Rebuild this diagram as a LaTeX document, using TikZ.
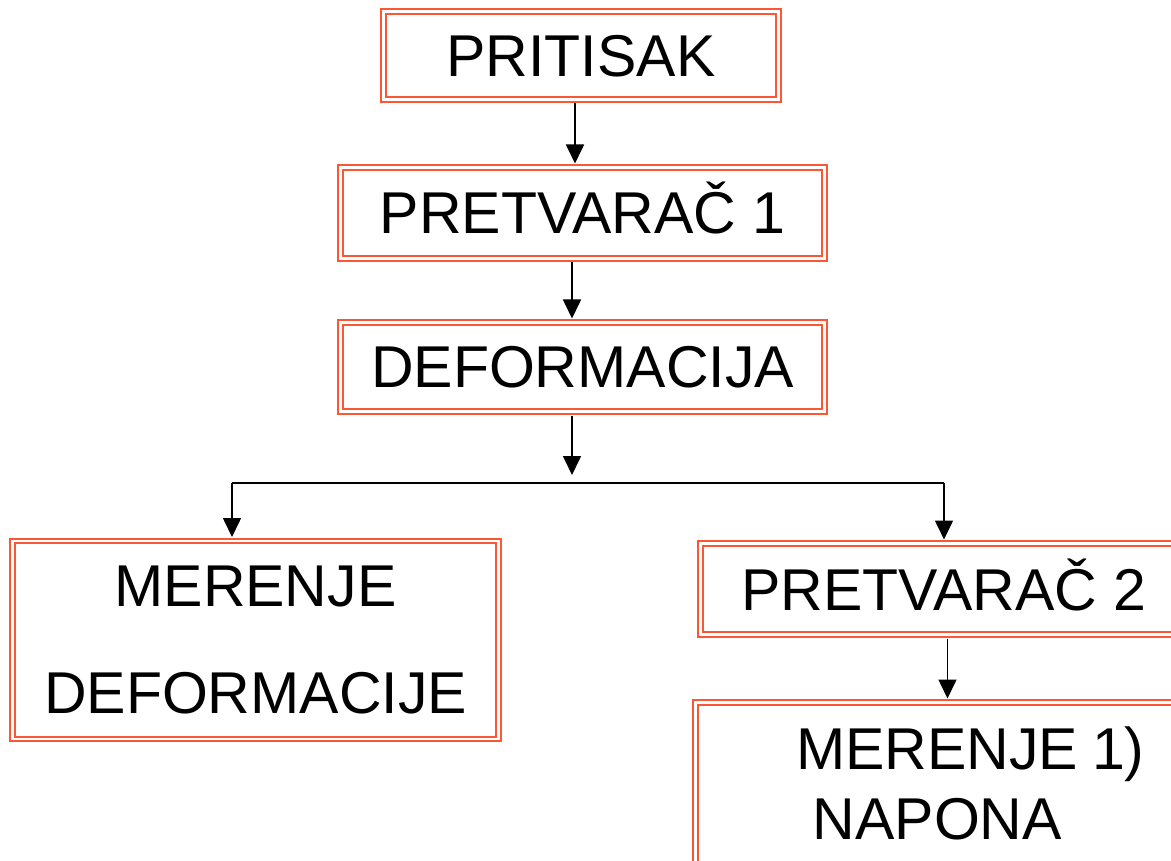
\documentclass[tikz,border=0pt]{standalone}
\usepackage{fontspec}
\setmainfont{Liberation Sans}
\usetikzlibrary{arrows.meta}
\definecolor{frame}{RGB}{250,88,52}
\begin{document}
\begin{tikzpicture}[x=1pt,y=-1pt,
  box/.style={draw=frame, line width=2pt, double=white, double distance=2.4pt,
    inner sep=0pt, font=\fontsize{59}{70}\selectfont, text height=42pt, text depth=0pt},
  lbl/.style={inner sep=0pt, font=\fontsize{59}{70}\selectfont},
  arr/.style={line width=1.6pt, -{Triangle[length=19pt,width=18pt]}, shorten >=3pt},
  ln/.style={line width=1.6pt}]
\clip (0,0) rectangle (1171,861);
\fill[white] (0,0) rectangle (1171,861);
\node[box, minimum width=395pt, minimum height=88pt] (p) at (581,55.5) {PRITISAK};
\node[box, minimum width=484pt, minimum height=91pt] (p1) at (582.5,213) {PRETVARAČ 1};
\node[box, minimum width=484pt, minimum height=89pt] (d) at (582.5,367) {DEFORMACIJA};
\node[box, minimum width=486pt, minimum height=198pt, align=center,
  font=\fontsize{59}{107}\selectfont, text height=, text depth=] (m) at (255.5,640)
  {MERENJE\\DEFORMACIJE};
\node[box, minimum width=487pt, minimum height=91pt] (p2) at (944,589) {PRETVARAČ 2};
\node[box, minimum width=487pt, minimum height=250pt] (n) at (939,827.5) {};
\node[lbl, anchor=base west] (n1) at (796,769) {MERENJE\hspace{14pt}1)};
\node[lbl, anchor=base west] (n2) at (812.5,839) {NAPONA};
\coordinate (j) at (572,483);
\coordinate (jl) at (232,483);
\coordinate (jr) at (944,483);
\draw[arr, shorten <=3pt] ([xshift=-6pt]p.south) -- ([xshift=-7.5pt]p1.north);
\draw[arr, shorten <=3pt] ([xshift=-10.5pt]p1.south) -- ([xshift=-10.5pt]d.north);
\draw[arr, shorten <=3pt, shorten >=8pt] ([xshift=-10.5pt]d.south) -- (j);
\draw[ln] (jl) -- (jr);
\draw[arr] (jl) -- ([xshift=-23.5pt]m.north);
\draw[arr] (jr) -- (p2.north);
\draw[arr, shorten <=3pt] ([xshift=3.5pt]p2.south) -- ([xshift=8.5pt]n.north);
\end{tikzpicture}
\end{document}
